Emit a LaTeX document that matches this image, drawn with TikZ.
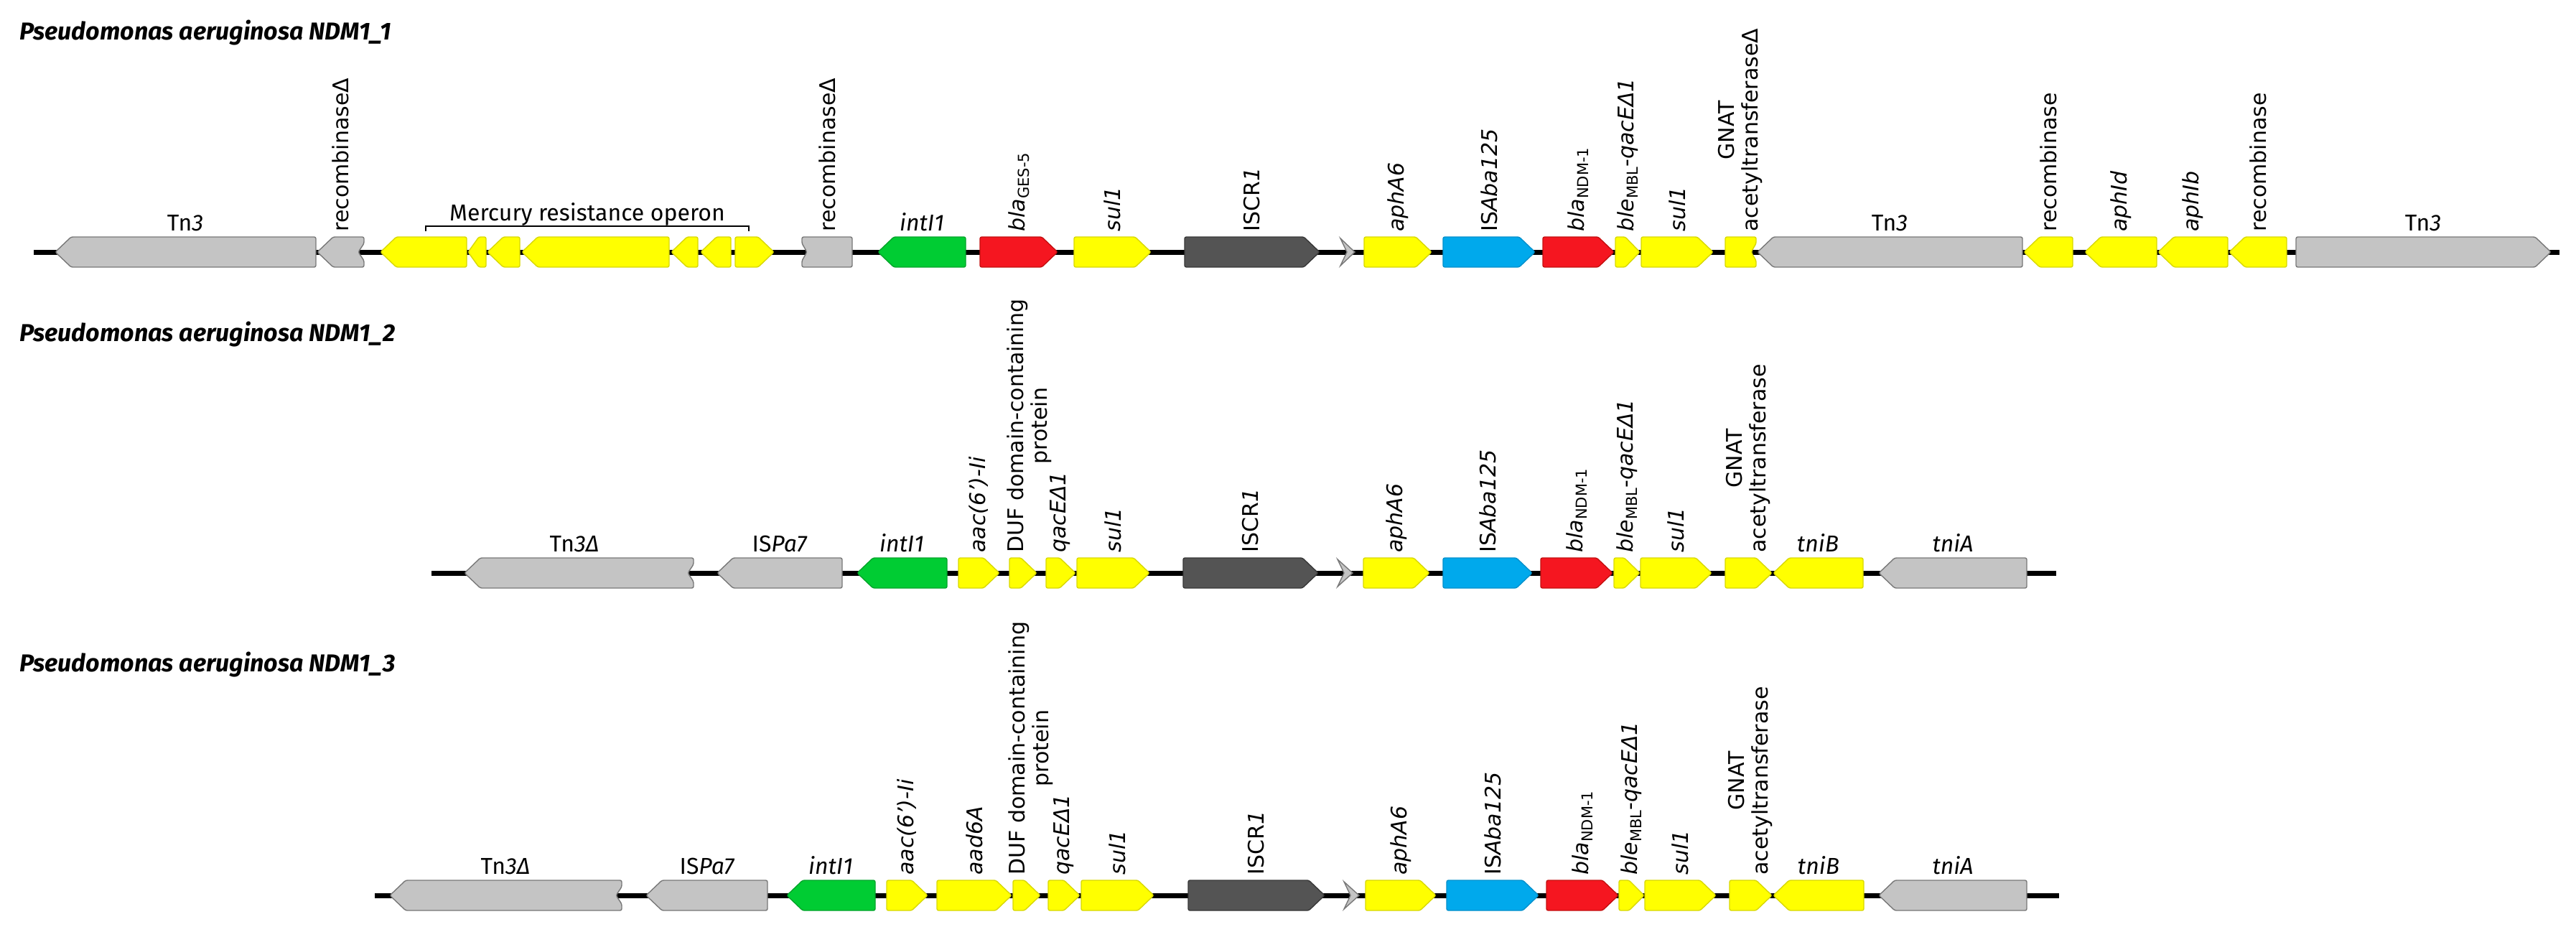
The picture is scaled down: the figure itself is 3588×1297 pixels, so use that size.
\documentclass[tikz,border=0pt]{standalone}
\usepackage{fontspec}
\usepackage{graphicx}
\setmainfont{DejaVu Sans}
\newfontfamily\labf{DejaVu Sans}
\newfontfamily\cndf{Fira Sans}
\definecolor{cyel}{HTML}{FFFF00}
\definecolor{cyeld}{HTML}{D8D800}
\definecolor{cgry}{HTML}{C4C4C4}
\definecolor{cgryd}{HTML}{787878}
\definecolor{cgrn}{HTML}{00CC33}
\definecolor{cgrnd}{HTML}{00A52A}
\definecolor{cred}{HTML}{F51620}
\definecolor{credd}{HTML}{C41010}
\definecolor{cblu}{HTML}{00A9EC}
\definecolor{cblud}{HTML}{0090CC}
\definecolor{cdrk}{HTML}{545454}
\definecolor{cdrkd}{HTML}{383838}
\tikzset{
  backbone/.style={line width=3.5pt, black},
  gy/.style={fill=cyel, draw=cyeld, line width=0.7pt, rounded corners=1.2pt},
  gg/.style={fill=cgry, draw=cgryd, line width=0.7pt, rounded corners=1.2pt},
  ggreen/.style={fill=cgrn, draw=cgrnd, line width=0.7pt, rounded corners=1.2pt},
  gred/.style={fill=cred, draw=credd, line width=0.7pt, rounded corners=1.2pt},
  gblue/.style={fill=cblu, draw=cblud, line width=0.7pt, rounded corners=1.2pt},
  gdark/.style={fill=cdrk, draw=cdrkd, line width=0.7pt, rounded corners=1.2pt},
  vlab/.style={rotate=90, anchor=west, inner sep=0pt, font=\labf\fontsize{15}{16.5}\selectfont, align=center},
  hlab/.style={anchor=base, inner sep=0pt, font=\cndf\fontsize{16}{16}\selectfont},
  rowtitle/.style={anchor=base west, inner sep=0pt, font=\cndf\bfseries\itshape\fontsize{17}{17}\selectfont},
}
% right-pointing gene
\newcommand{\gR}[4]{\pgfmathsetmacro{\tp}{min(22,0.6*(#2-#1))}%
  \path[#4] (#1,#3-21) -- ({#2-\tp},#3-21) -- (#2,#3) -- ({#2-\tp},#3+21) -- (#1,#3+21) -- cycle;}
% left-pointing gene
\newcommand{\gL}[4]{\pgfmathsetmacro{\tp}{min(22,0.6*(#2-#1))}%
  \path[#4] (#2,#3-21) -- ({#1+\tp},#3-21) -- (#1,#3) -- ({#1+\tp},#3+21) -- (#2,#3+21) -- cycle;}
% left-pointing gene, truncated (notched) right end
\newcommand{\gLn}[4]{\pgfmathsetmacro{\tp}{min(22,0.6*(#2-#1))}%
  \path[#4] (#2,#3-21) -- ({#1+\tp},#3-21) -- (#1,#3) -- ({#1+\tp},#3+21) -- (#2,#3+21)
     -- (#2,#3+12) -- (#2-8,#3) -- (#2,#3-12) -- cycle;}
% box with notched left end
\newcommand{\gNl}[4]{%
  \path[#4] (#2,#3-21) -- (#1,#3-21) -- (#1,#3-12) -- (#1+7,#3) -- (#1,#3+12) -- (#1,#3+21) -- (#2,#3+21) -- cycle;}
% box with notched right end
\newcommand{\gNr}[4]{%
  \path[#4] (#1,#3-21) -- (#2,#3-21) -- (#2,#3-12) -- (#2-7,#3) -- (#2,#3+12) -- (#2,#3+21) -- (#1,#3+21) -- cycle;}
% small chevron
\newcommand{\gC}[3]{%
  \path[fill=cgry, draw=cgryd, line width=0.7pt] (#1,#3-19) -- (#2,#3) -- (#1,#3+19) -- (#1+9,#3) -- cycle;}
\newcommand{\sbs}[1]{\raisebox{-3pt}{\fontsize{10.5}{11}\selectfont\upshape #1}}
\begin{document}
\begin{tikzpicture}[x=0.5pt,y=-0.5pt]
\useasboundingbox[fill=white] (0,0) rectangle (3588,1297);

% ---------------- Row 1 ----------------
\node[rowtitle] (t1) at (27,55) {Pseudomonas aeruginosa NDM1\_1};
\coordinate (b1s) at (47,351); \coordinate (b1e) at (3565,351);
\draw[backbone] (b1s) -- (b1e);
\gL{77}{440}{351}{gg}
\gLn{442}{507}{351}{gg}
\gL{530}{650}{351}{gy}
\gL{652}{677}{351}{gy}
\gL{679}{724}{351}{gy}
\gL{727}{932}{351}{gy}
\gL{935}{972}{351}{gy}
\gL{976}{1018}{351}{gy}
\gR{1024}{1078}{351}{gy}
\gNl{1117}{1187}{351}{gg}
\gL{1223}{1345}{351}{ggreen}
\gR{1365}{1473}{351}{gred}
\gR{1496}{1603}{351}{gy}
\gR{1650}{1838}{351}{gdark}
\gC{1867}{1887}{351}
\gR{1900}{1994}{351}{gy}
\gR{2010}{2138}{351}{gblue}
\gR{2149}{2248}{351}{gred}
\gR{2250}{2284}{351}{gy}
\gR{2286}{2386}{351}{gy}
\gNr{2403}{2446}{351}{gy}
\gL{2448}{2817}{351}{gg}
\gL{2819}{2887}{351}{gy}
\gL{2904}{3004}{351}{gy}
\gL{3006}{3103}{351}{gy}
\gL{3105}{3185}{351}{gy}
\gR{3198}{3553}{351}{gg}
% bracket
\coordinate (br1) at (593,322); \coordinate (br2) at (1043,322);
\draw[line width=0.8pt] (br1) -- (593,315) -- (1043,315) -- (br2);
\node[hlab] (merc) at (818,307) {Mercury resistance operon};
\node[hlab] (h1a) at (258,321) {Tn\textit{3}};
\node[hlab] (h1b) at (1284,321) {\textit{intI1}};
\node[hlab] (h1c) at (2632,321) {Tn\textit{3}};
\node[hlab] (h1d) at (3375,321) {Tn\textit{3}};
\node[vlab] (v1a) at (474,323) {recombinaseΔ};
\node[vlab] (v1b) at (1152,323) {recombinaseΔ};
\node[vlab] (v1c) at (1419,323) {\textit{bla}\sbs{GES-5}};
\node[vlab] (v1d) at (1549,323) {\textit{sul1}};
\node[vlab] (v1e) at (1744,323) {ISCR\textit{1}};
\node[vlab] (v1f) at (1947,323) {\textit{aphA6}};
\node[vlab] (v1g) at (2074,323) {IS\textit{Aba125}};
\node[vlab] (v1h) at (2198,323) {\textit{bla}\sbs{NDM-1}};
\node[vlab] (v1i) at (2267,323) {\textit{ble}\sbs{MBL}-\textit{qacEΔ1}};
\node[vlab] (v1j) at (2336,323) {\textit{sul1}};
\node[vlab] (v1k) at (2424,323) {GNAT\\acetyltransferaseΔ};
\node[vlab] (v1l) at (2853,323) {recombinase};
\node[vlab] (v1m) at (2954,323) {\textit{aphId}};
\node[vlab] (v1n) at (3054,323) {\textit{aphIb}};
\node[vlab] (v1o) at (3145,323) {recombinase};

% ---------------- Row 2 ----------------
\node[rowtitle] (t2) at (27,475) {Pseudomonas aeruginosa NDM1\_2};
\coordinate (b2s) at (601,798); \coordinate (b2e) at (2864,798);
\draw[backbone] (b2s) -- (b2e);
\gLn{647}{966}{798}{gg}
\gL{999}{1173}{798}{gg}
\gL{1194}{1319}{798}{ggreen}
\gR{1335}{1392}{798}{gy}
\gR{1406}{1444}{798}{gy}
\gR{1457}{1498}{798}{gy}
\gR{1500}{1601}{798}{gy}
\gR{1648}{1836}{798}{gdark}
\gC{1863}{1884}{798}
\gR{1899}{1991}{798}{gy}
\gR{2010}{2134}{798}{gblue}
\gR{2146}{2246}{798}{gred}
\gR{2248}{2284}{798}{gy}
\gR{2285}{2384}{798}{gy}
\gR{2403}{2468}{798}{gy}
\gL{2470}{2595}{798}{gy}
\gL{2617}{2823}{798}{gg}
\node[hlab] (h2a) at (800,768) {Tn\textit{3Δ}};
\node[hlab] (h2b) at (1086,768) {IS\textit{Pa7}};
\node[hlab] (h2c) at (1256,768) {\textit{intI1}};
\node[hlab] (h2d) at (2532,768) {\textit{tniB}};
\node[hlab] (h2e) at (2720,768) {\textit{tniA}};
\node[vlab] (v2a) at (1363,770) {\textit{aac(6’)-Ii}};
\node[vlab] (v2b) at (1434,770) {DUF domain-containing\\protein};
\node[vlab] (v2c) at (1477,770) {\textit{qacEΔ1}};
\node[vlab] (v2d) at (1550,770) {\textit{sul1}};
\node[vlab] (v2e) at (1742,770) {ISCR\textit{1}};
\node[vlab] (v2f) at (1945,770) {\textit{aphA6}};
\node[vlab] (v2g) at (2072,770) {IS\textit{Aba125}};
\node[vlab] (v2h) at (2196,770) {\textit{bla}\sbs{NDM-1}};
\node[vlab] (v2i) at (2266,770) {\textit{ble}\sbs{MBL}-\textit{qacEΔ1}};
\node[vlab] (v2j) at (2334,770) {\textit{sul1}};
\node[vlab] (v2k) at (2435,770) {GNAT\\acetyltransferase};

% ---------------- Row 3 ----------------
\node[rowtitle] (t3) at (27,935) {Pseudomonas aeruginosa NDM1\_3};
\coordinate (b3s) at (522,1247); \coordinate (b3e) at (2868,1247);
\draw[backbone] (b3s) -- (b3e);
\gLn{543}{866}{1247}{gg}
\gL{900}{1069}{1247}{gg}
\gL{1096}{1219}{1247}{ggreen}
\gR{1235}{1292}{1247}{gy}
\gR{1305}{1409}{1247}{gy}
\gR{1411}{1449}{1247}{gy}
\gR{1460}{1504}{1247}{gy}
\gR{1506}{1607}{1247}{gy}
\gR{1655}{1845}{1247}{gdark}
\gC{1872}{1893}{1247}
\gR{1902}{2000}{1247}{gy}
\gR{2015}{2143}{1247}{gblue}
\gR{2154}{2254}{1247}{gred}
\gR{2255}{2290}{1247}{gy}
\gR{2291}{2390}{1247}{gy}
\gR{2409}{2468}{1247}{gy}
\gL{2470}{2596}{1247}{gy}
\gL{2617}{2823}{1247}{gg}
\node[hlab] (h3a) at (704,1217) {Tn\textit{3Δ}};
\node[hlab] (h3b) at (985,1217) {IS\textit{Pa7}};
\node[hlab] (h3c) at (1157,1217) {\textit{intI1}};
\node[hlab] (h3d) at (2533,1217) {\textit{tniB}};
\node[hlab] (h3e) at (2720,1217) {\textit{tniA}};
\node[vlab] (v3a) at (1263,1219) {\textit{aac(6’)-Ii}};
\node[vlab] (v3b) at (1357,1219) {\textit{aad6A}};
\node[vlab] (v3c) at (1436,1219) {DUF domain-containing\\protein};
\node[vlab] (v3d) at (1482,1219) {\textit{qacEΔ1}};
\node[vlab] (v3e) at (1556,1219) {\textit{sul1}};
\node[vlab] (v3f) at (1750,1219) {ISCR\textit{1}};
\node[vlab] (v3g) at (1951,1219) {\textit{aphA6}};
\node[vlab] (v3h) at (2079,1219) {IS\textit{Aba125}};
\node[vlab] (v3i) at (2204,1219) {\textit{bla}\sbs{NDM-1}};
\node[vlab] (v3j) at (2272,1219) {\textit{ble}\sbs{MBL}-\textit{qacEΔ1}};
\node[vlab] (v3k) at (2340,1219) {\textit{sul1}};
\node[vlab] (v3l) at (2438,1219) {GNAT\\acetyltransferase};
\end{tikzpicture}
\end{document}
